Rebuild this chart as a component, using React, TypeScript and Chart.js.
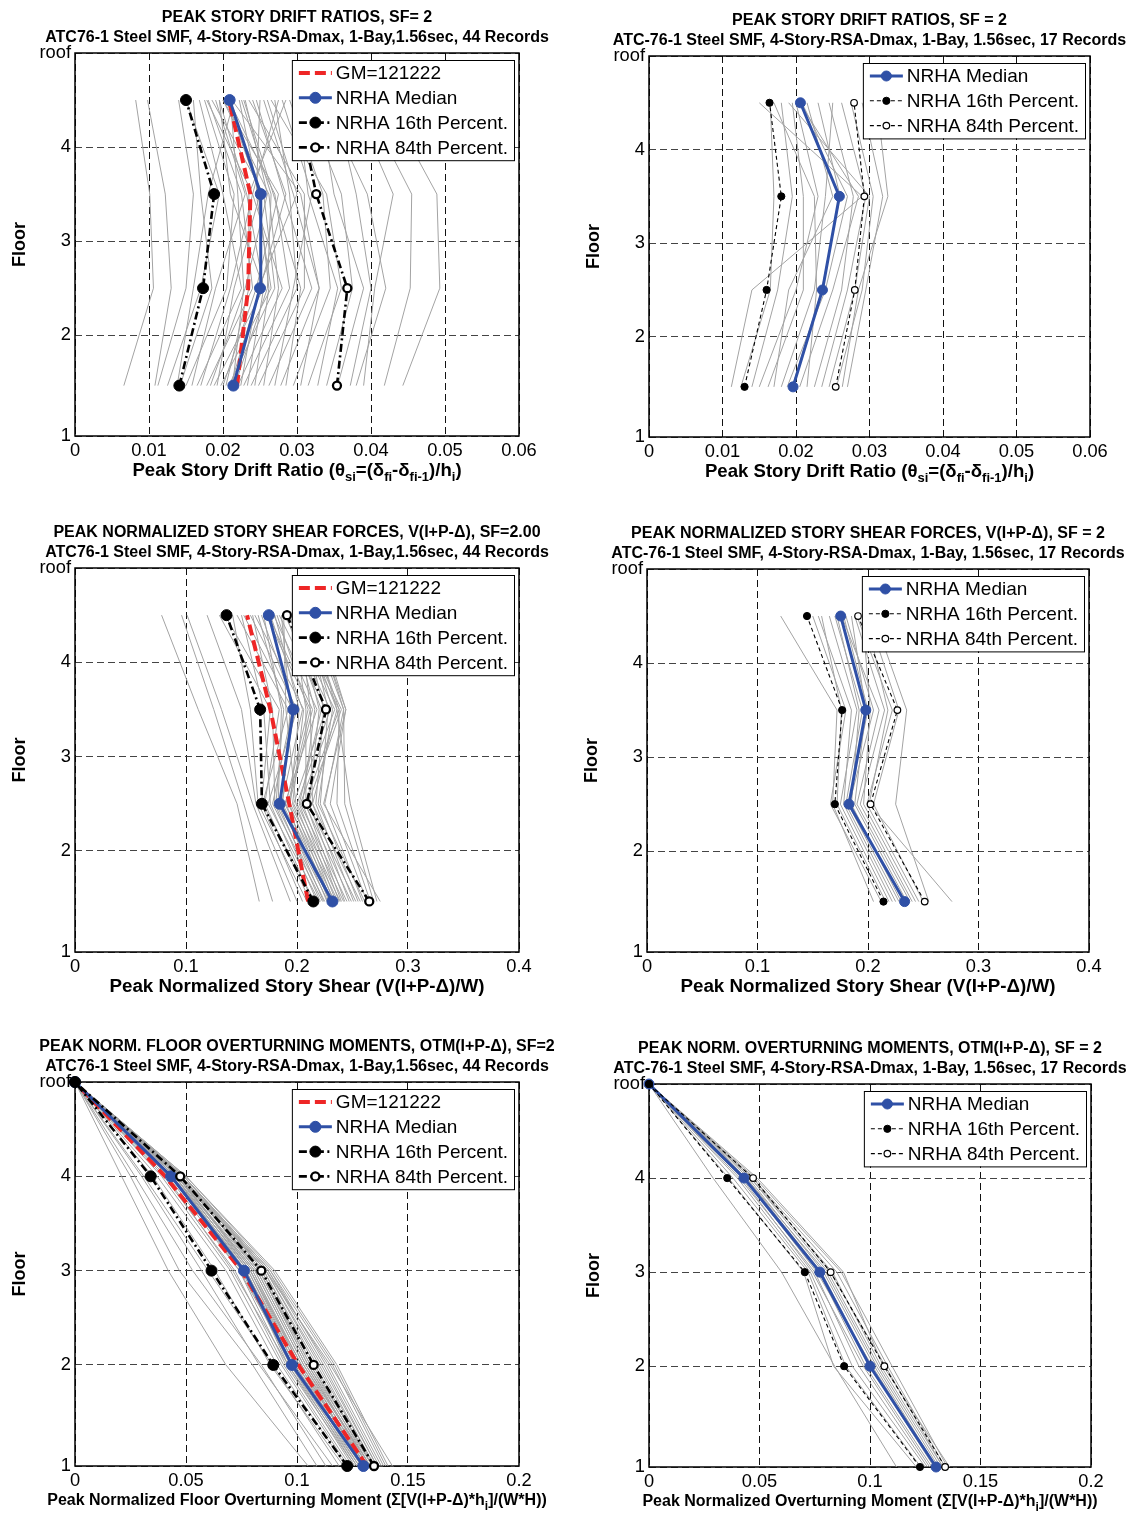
import React, { useEffect, useRef } from 'react';
import { Chart, registerables } from 'chart.js';

Chart.register(...registerables);

const FONT = '"Liberation Sans", Arial, Helvetica, sans-serif';

// Floor elevations (first story is taller) and their labels
const floorElevation = [0, 15, 29, 43, 57];
const floorLabels = ['1', '2', '3', '4', 'roof'];
// Story quantities are plotted at mid-height of each story
const storyMid = floorElevation.slice(0, -1).map((e, i) => (e + floorElevation[i + 1]) / 2);
// Overturning moment at the roof level
const roofMoment = 0;

// ---------- Peak story drift ratios (stories 1..4) ----------
const drift44GM = [0.0219, 0.0234, 0.0237, 0.0208];
const drift44Median = [0.0214, 0.025, 0.0251, 0.0209];
const drift44P16 = [0.0141, 0.0173, 0.0188, 0.015];
const drift44P84 = [0.0354, 0.0368, 0.0326, 0.03];
const drift44Records = [
  [0.0066, 0.0106, 0.0101, 0.0082], [0.0108, 0.013, 0.0122, 0.0098], [0.0112, 0.015, 0.016, 0.014],
  [0.0125, 0.017, 0.0195, 0.015], [0.0138, 0.016, 0.018, 0.0215], [0.0142, 0.0185, 0.017, 0.016],
  [0.015, 0.0205, 0.0215, 0.0175], [0.0158, 0.019, 0.023, 0.019], [0.0165, 0.0225, 0.02, 0.0168],
  [0.017, 0.021, 0.024, 0.0275], [0.0178, 0.024, 0.0225, 0.018], [0.0183, 0.023, 0.026, 0.023],
  [0.0188, 0.0255, 0.021, 0.0195], [0.0192, 0.0215, 0.025, 0.0205], [0.0197, 0.0265, 0.0245, 0.025],
  [0.02, 0.0245, 0.0275, 0.02], [0.0204, 0.0235, 0.0235, 0.0285], [0.0208, 0.027, 0.0255, 0.0185],
  [0.021, 0.025, 0.0285, 0.024], [0.0213, 0.0228, 0.022, 0.021], [0.0216, 0.026, 0.0265, 0.0225],
  [0.022, 0.028, 0.024, 0.0178], [0.0224, 0.0248, 0.03, 0.026], [0.0228, 0.029, 0.027, 0.0208],
  [0.0233, 0.0255, 0.0232, 0.0195], [0.0238, 0.03, 0.029, 0.027], [0.0243, 0.0262, 0.0248, 0.0222],
  [0.0248, 0.031, 0.031, 0.0235], [0.0255, 0.0275, 0.0262, 0.02], [0.0262, 0.032, 0.0282, 0.0245],
  [0.027, 0.0295, 0.032, 0.028], [0.0278, 0.033, 0.0305, 0.0212], [0.0285, 0.0305, 0.0268, 0.0228],
  [0.0295, 0.0345, 0.0335, 0.029], [0.0305, 0.033, 0.0295, 0.0255], [0.0315, 0.036, 0.034, 0.0265],
  [0.0328, 0.0355, 0.0315, 0.03], [0.034, 0.0375, 0.036, 0.031], [0.0355, 0.039, 0.035, 0.033],
  [0.0372, 0.04, 0.038, 0.035], [0.038, 0.042, 0.0395, 0.0335], [0.039, 0.0405, 0.043, 0.0375],
  [0.0418, 0.0453, 0.0455, 0.039], [0.0443, 0.0493, 0.0489, 0.042],
];

const drift17Median = [0.0196, 0.0236, 0.0259, 0.0206];
const drift17P16 = [0.013, 0.016, 0.018, 0.0164];
const drift17P84 = [0.0254, 0.028, 0.0293, 0.0279];
const drift17Records = [
  [0.0112, 0.014, 0.029, 0.015], [0.0125, 0.0165, 0.017, 0.0165], [0.014, 0.0175, 0.0195, 0.018],
  [0.015, 0.02, 0.023, 0.02], [0.0162, 0.021, 0.021, 0.0195], [0.017, 0.019, 0.025, 0.0215],
  [0.018, 0.0225, 0.024, 0.025], [0.0188, 0.024, 0.027, 0.0208], [0.0195, 0.0235, 0.026, 0.023],
  [0.0205, 0.025, 0.0285, 0.0205], [0.0215, 0.0228, 0.0225, 0.017], [0.0225, 0.0262, 0.0278, 0.0245],
  [0.0235, 0.027, 0.0295, 0.0262], [0.0245, 0.028, 0.03, 0.019], [0.0255, 0.029, 0.0305, 0.0275],
  [0.0263, 0.0285, 0.0325, 0.031], [0.027, 0.0295, 0.0318, 0.029],
];

// ---------- Peak normalized story shear (stories 1..4) ----------
const shear44GM = [0.21, 0.193, 0.176, 0.155];
const shear44Median = [0.2319, 0.1844, 0.1967, 0.1746];
const shear44P16 = [0.2147, 0.1684, 0.1668, 0.1365];
const shear44P84 = [0.2651, 0.2088, 0.2261, 0.191];
const shear44Records = [
  [0.166, 0.146, 0.111, 0.078], [0.178, 0.152, 0.125, 0.096], [0.194, 0.16, 0.132, 0.101],
  [0.2, 0.163, 0.15, 0.119], [0.205, 0.168, 0.176, 0.13], [0.209, 0.165, 0.158, 0.142],
  [0.212, 0.171, 0.184, 0.135], [0.214, 0.176, 0.17, 0.15], [0.216, 0.169, 0.192, 0.146],
  [0.218, 0.18, 0.178, 0.16], [0.22, 0.174, 0.2, 0.158], [0.221, 0.183, 0.186, 0.17],
  [0.223, 0.178, 0.196, 0.152], [0.224, 0.186, 0.205, 0.176], [0.225, 0.181, 0.188, 0.165],
  [0.227, 0.19, 0.21, 0.182], [0.228, 0.184, 0.198, 0.168], [0.229, 0.193, 0.214, 0.174],
  [0.23, 0.187, 0.194, 0.186], [0.231, 0.196, 0.206, 0.162], [0.232, 0.189, 0.218, 0.179],
  [0.233, 0.199, 0.19, 0.188], [0.234, 0.192, 0.212, 0.172], [0.235, 0.202, 0.222, 0.19],
  [0.237, 0.194, 0.202, 0.18], [0.238, 0.205, 0.216, 0.194], [0.239, 0.197, 0.226, 0.184],
  [0.24, 0.208, 0.208, 0.196], [0.242, 0.2, 0.23, 0.189], [0.243, 0.211, 0.22, 0.199],
  [0.245, 0.203, 0.234, 0.192], [0.247, 0.214, 0.212, 0.202], [0.249, 0.207, 0.238, 0.196],
  [0.251, 0.217, 0.224, 0.205], [0.253, 0.21, 0.24, 0.2], [0.255, 0.221, 0.228, 0.208],
  [0.257, 0.214, 0.236, 0.203], [0.259, 0.225, 0.242, 0.211], [0.261, 0.219, 0.232, 0.206],
  [0.263, 0.23, 0.244, 0.214], [0.266, 0.236, 0.238, 0.209], [0.269, 0.243, 0.242, 0.216],
  [0.272, 0.248, 0.236, 0.211], [0.275, 0.224, 0.244, 0.218],
];

const shear17Median = [0.2331, 0.1828, 0.198, 0.1753];
const shear17P16 = [0.214, 0.17, 0.1766, 0.1448];
const shear17P84 = [0.2513, 0.2023, 0.2266, 0.191];
const shear17Records = [
  [0.205, 0.168, 0.172, 0.121], [0.212, 0.166, 0.18, 0.15], [0.216, 0.172, 0.176, 0.158],
  [0.219, 0.175, 0.19, 0.165], [0.222, 0.178, 0.185, 0.155], [0.225, 0.18, 0.195, 0.17],
  [0.228, 0.182, 0.2, 0.178], [0.23, 0.185, 0.192, 0.172], [0.233, 0.183, 0.205, 0.18],
  [0.235, 0.188, 0.198, 0.185], [0.238, 0.19, 0.21, 0.176], [0.24, 0.193, 0.215, 0.188],
  [0.243, 0.196, 0.202, 0.195], [0.246, 0.199, 0.222, 0.19], [0.25, 0.205, 0.228, 0.2],
  [0.255, 0.225, 0.235, 0.205], [0.276, 0.201, 0.218, 0.198],
];

// ---------- Peak normalized overturning moments (floors 1..4) ----------
const otm44GM = [0.1315, 0.1006, 0.075, 0.0406];
const otm44Median = [0.1299, 0.0977, 0.0761, 0.0433];
const otm44P16 = [0.1226, 0.0893, 0.0615, 0.0341];
const otm44P84 = [0.1347, 0.1075, 0.0839, 0.0474];
const otm44Records = [
  [0.105, 0.068, 0.042, 0.021], [0.109, 0.08, 0.047, 0.025], [0.113, 0.084, 0.053, 0.027],
  [0.116, 0.083, 0.057, 0.03], [0.119, 0.089, 0.06, 0.031], [0.121, 0.088, 0.063, 0.035],
  [0.122, 0.091, 0.068, 0.037], [0.123, 0.093, 0.07, 0.039], [0.124, 0.094, 0.072, 0.04],
  [0.125, 0.096, 0.071, 0.041], [0.126, 0.095, 0.074, 0.042], [0.126, 0.097, 0.075, 0.043],
  [0.127, 0.098, 0.074, 0.044], [0.127, 0.096, 0.076, 0.043], [0.128, 0.099, 0.077, 0.044],
  [0.128, 0.097, 0.076, 0.045], [0.129, 0.1, 0.078, 0.044], [0.129, 0.098, 0.077, 0.045],
  [0.13, 0.101, 0.079, 0.045], [0.13, 0.099, 0.078, 0.046], [0.13, 0.102, 0.08, 0.046],
  [0.131, 0.1, 0.079, 0.045], [0.131, 0.103, 0.081, 0.046], [0.131, 0.101, 0.08, 0.047],
  [0.132, 0.104, 0.082, 0.046], [0.132, 0.102, 0.079, 0.047], [0.132, 0.105, 0.083, 0.047],
  [0.133, 0.103, 0.081, 0.046], [0.133, 0.106, 0.083, 0.047], [0.133, 0.104, 0.082, 0.048],
  [0.134, 0.107, 0.084, 0.047], [0.134, 0.105, 0.083, 0.048], [0.134, 0.108, 0.085, 0.048],
  [0.135, 0.106, 0.084, 0.047], [0.135, 0.109, 0.085, 0.048], [0.135, 0.11, 0.086, 0.049],
  [0.136, 0.111, 0.086, 0.048], [0.136, 0.112, 0.087, 0.049], [0.137, 0.113, 0.088, 0.049],
  [0.138, 0.114, 0.087, 0.048], [0.139, 0.116, 0.088, 0.049], [0.14, 0.117, 0.089, 0.05],
  [0.141, 0.118, 0.09, 0.05], [0.143, 0.115, 0.086, 0.047],
];

const otm17Median = [0.1299, 0.1, 0.0773, 0.043];
const otm17P16 = [0.1226, 0.0883, 0.0705, 0.0354];
const otm17P84 = [0.134, 0.1065, 0.0822, 0.0471];
const otm17Records = [
  [0.112, 0.084, 0.06, 0.029], [0.121, 0.0835, 0.07, 0.036], [0.123, 0.089, 0.072, 0.038],
  [0.125, 0.092, 0.073, 0.04], [0.126, 0.095, 0.075, 0.041], [0.127, 0.097, 0.074, 0.042],
  [0.128, 0.098, 0.077, 0.043], [0.129, 0.1, 0.078, 0.044], [0.13, 0.101, 0.076, 0.043],
  [0.13, 0.102, 0.079, 0.045], [0.131, 0.103, 0.08, 0.044], [0.132, 0.104, 0.081, 0.046],
  [0.133, 0.105, 0.083, 0.046], [0.133, 0.107, 0.082, 0.047], [0.134, 0.108, 0.085, 0.047],
  [0.135, 0.11, 0.087, 0.048], [0.136, 0.106, 0.088, 0.049],
];

// ---------- Labels ----------
const legendLabels = {
  gm: 'GM=121222',
  median: 'NRHA Median',
  p16: 'NRHA 16th Percent.',
  p84: 'NRHA 84th Percent.',
};
const subtitle44 = 'ATC76-1 Steel SMF, 4-Story-RSA-Dmax, 1-Bay,1.56sec, 44 Records';
const subtitle17 = 'ATC-76-1 Steel SMF, 4-Story-RSA-Dmax, 1-Bay, 1.56sec, 17 Records';

type Seg = { t: string; sub?: boolean };
const driftLabel: Seg[] = [
  { t: 'Peak Story Drift Ratio (\u03B8' }, { t: 'si', sub: true }, { t: '=(\u03B4' }, { t: 'fi', sub: true },
  { t: '-\u03B4' }, { t: 'fi-1', sub: true }, { t: ')/h' }, { t: 'i', sub: true }, { t: ')' },
];
const shearLabel: Seg[] = [{ t: 'Peak Normalized Story Shear (V(I+P-\u0394)/W)' }];
const otmLabel44: Seg[] = [
  { t: 'Peak Normalized Floor Overturning Moment (\u03A3[V(I+P-\u0394)*h' }, { t: 'i', sub: true }, { t: ']/(W*H))' },
];
const otmLabel17: Seg[] = [
  { t: 'Peak Normalized Overturning Moment (\u03A3[V(I+P-\u0394)*h' }, { t: 'i', sub: true }, { t: ']/(W*H))' },
];

// ---------- Styles ----------
type Kind = 'gm' | 'median' | 'p16' | 'p84';
type LineStyle = { color: string; width: number; dash: number[]; r: number; fill: string; bw: number };
const GRAY = '#a3a3a3';
const BLUE = '#2f50a6';
const RED = '#ee2626';

const heavyStyle: Record<Kind, LineStyle> = {
  gm: { color: RED, width: 4, dash: [11, 5], r: 0, fill: RED, bw: 0 },
  median: { color: BLUE, width: 3, dash: [], r: 5.5, fill: BLUE, bw: 1 },
  p16: { color: '#000', width: 2.6, dash: [8, 3.5, 2, 3.5], r: 5.5, fill: '#000', bw: 1 },
  p84: { color: '#000', width: 2.6, dash: [8, 3.5, 2, 3.5], r: 4, fill: '#fff', bw: 2.3 },
};
const lightStyle: Record<Kind, LineStyle> = {
  gm: heavyStyle.gm,
  median: { color: BLUE, width: 3, dash: [], r: 5, fill: BLUE, bw: 1 },
  p16: { color: '#000', width: 1.1, dash: [4, 3], r: 3.6, fill: '#000', bw: 1 },
  p84: { color: '#000', width: 1.1, dash: [4, 3], r: 3.3, fill: '#fff', bw: 1.2 },
};

type Rect = { l: number; t: number; r: number; b: number };
interface PanelDef {
  canvas: [number, number, number, number];
  plot: Rect;
  xMax: number;
  xStep: number;
  title: string;
  subtitle: string;
  xLabel: Seg[];
  xLabelSize: number;
  style: Record<Kind, LineStyle>;
  ys: number[];
  series: { kind: Kind; values: number[] }[];
  records: number[][];
}

const withRoof = (v: number[]) => [...v, roofMoment];

const panels: PanelDef[] = [
  {
    canvas: [0, 0, 565, 505], plot: { l: 75, t: 53, r: 519, b: 436 }, xMax: 0.06, xStep: 0.01,
    title: 'PEAK STORY DRIFT RATIOS, SF= 2', subtitle: subtitle44, xLabel: driftLabel, xLabelSize: 18.6,
    style: heavyStyle, ys: storyMid,
    series: [
      { kind: 'gm', values: drift44GM }, { kind: 'median', values: drift44Median },
      { kind: 'p16', values: drift44P16 }, { kind: 'p84', values: drift44P84 },
    ],
    records: drift44Records,
  },
  {
    canvas: [565, 0, 566, 505], plot: { l: 649, t: 56, r: 1090, b: 437 }, xMax: 0.06, xStep: 0.01,
    title: 'PEAK STORY DRIFT RATIOS, SF = 2', subtitle: subtitle17, xLabel: driftLabel, xLabelSize: 18.6,
    style: lightStyle, ys: storyMid,
    series: [
      { kind: 'median', values: drift17Median }, { kind: 'p16', values: drift17P16 }, { kind: 'p84', values: drift17P84 },
    ],
    records: drift17Records,
  },
  {
    canvas: [0, 505, 565, 515], plot: { l: 75, t: 568, r: 519, b: 952 }, xMax: 0.4, xStep: 0.1,
    title: 'PEAK NORMALIZED STORY SHEAR FORCES, V(I+P-\u0394), SF=2.00', subtitle: subtitle44,
    xLabel: shearLabel, xLabelSize: 18.8, style: heavyStyle, ys: storyMid,
    series: [
      { kind: 'gm', values: shear44GM }, { kind: 'median', values: shear44Median },
      { kind: 'p16', values: shear44P16 }, { kind: 'p84', values: shear44P84 },
    ],
    records: shear44Records,
  },
  {
    canvas: [565, 505, 566, 515], plot: { l: 647, t: 569, r: 1089, b: 952 }, xMax: 0.4, xStep: 0.1,
    title: 'PEAK NORMALIZED STORY SHEAR FORCES, V(I+P-\u0394), SF = 2', subtitle: subtitle17,
    xLabel: shearLabel, xLabelSize: 18.8, style: lightStyle, ys: storyMid,
    series: [
      { kind: 'median', values: shear17Median }, { kind: 'p16', values: shear17P16 }, { kind: 'p84', values: shear17P84 },
    ],
    records: shear17Records,
  },
  {
    canvas: [0, 1020, 565, 494], plot: { l: 75, t: 1082, r: 519, b: 1466 }, xMax: 0.2, xStep: 0.05,
    title: 'PEAK NORM. FLOOR OVERTURNING MOMENTS, OTM(I+P-\u0394), SF=2', subtitle: subtitle44,
    xLabel: otmLabel44, xLabelSize: 16, style: heavyStyle, ys: floorElevation,
    series: [
      { kind: 'gm', values: withRoof(otm44GM) }, { kind: 'median', values: withRoof(otm44Median) },
      { kind: 'p16', values: withRoof(otm44P16) }, { kind: 'p84', values: withRoof(otm44P84) },
    ],
    records: otm44Records.map(withRoof),
  },
  {
    canvas: [565, 1020, 566, 494], plot: { l: 649, t: 1084, r: 1091, b: 1467 }, xMax: 0.2, xStep: 0.05,
    title: 'PEAK NORM. OVERTURNING MOMENTS, OTM(I+P-\u0394), SF = 2', subtitle: subtitle17,
    xLabel: otmLabel17, xLabelSize: 16, style: lightStyle, ys: floorElevation,
    series: [
      { kind: 'median', values: withRoof(otm17Median) }, { kind: 'p16', values: withRoof(otm17P16) },
      { kind: 'p84', values: withRoof(otm17P84) },
    ],
    records: otm17Records.map(withRoof),
  },
];

const X_AXIS_H = 30;
const TICK_SIZE = 18.3;
const LEGEND_SIZE = 19;
const TITLE_SIZE = 16;
const drawOrder: Record<Kind, number> = { gm: 3, median: 2, p84: 1, p16: 0 };

function drawSegments(ctx: CanvasRenderingContext2D, segs: Seg[], cx: number, cy: number, size: number) {
  const main = `bold ${size}px ${FONT}`;
  const sub = `bold ${Math.round(size * 0.72)}px ${FONT}`;
  let total = 0;
  for (const s of segs) {
    ctx.font = s.sub ? sub : main;
    total += ctx.measureText(s.t).width;
  }
  let x = cx - total / 2;
  ctx.textAlign = 'left';
  ctx.textBaseline = 'middle';
  ctx.fillStyle = '#000';
  for (const s of segs) {
    ctx.font = s.sub ? sub : main;
    ctx.fillText(s.t, x, s.sub ? cy + size * 0.36 : cy);
    x += ctx.measureText(s.t).width;
  }
}

function drawMarker(ctx: CanvasRenderingContext2D, x: number, y: number, st: LineStyle) {
  if (st.r <= 0) return;
  ctx.setLineDash([]);
  ctx.beginPath();
  ctx.arc(x, y, st.r, 0, Math.PI * 2);
  ctx.fillStyle = st.fill;
  ctx.fill();
  ctx.lineWidth = st.bw;
  ctx.strokeStyle = st.color;
  ctx.stroke();
}

function makeDecor(def: PanelDef) {
  return {
    id: 'panelDecor',
    beforeDatasetsDraw(chart: Chart) {
      const { ctx, chartArea: a } = chart;
      ctx.save();
      ctx.strokeStyle = '#000';
      ctx.lineWidth = 1.5;
      ctx.setLineDash([]);
      ctx.strokeRect(a.left, a.top, a.right - a.left, a.bottom - a.top);
      ctx.restore();
    },
    afterDatasetsDraw(chart: Chart) {
      // legend box in the upper right corner of the axes
      const { ctx, chartArea: a } = chart;
      ctx.save();
      ctx.font = `${LEGEND_SIZE}px ${FONT}`;
      const kinds = def.series.map((s) => s.kind);
      const textW = Math.max(...kinds.map((k) => ctx.measureText(legendLabels[k]).width));
      const rowH = 24.8;
      const w = 44 + textW + 6;
      const h = kinds.length * rowH + 1;
      const bx = a.right - 5 - w;
      const by = a.top + 7;
      ctx.fillStyle = '#fff';
      ctx.fillRect(bx, by, w, h);
      ctx.lineWidth = 1;
      ctx.strokeStyle = '#000';
      ctx.setLineDash([]);
      ctx.strokeRect(bx + 0.5, by + 0.5, w, h);
      kinds.forEach((k, i) => {
        const st = def.style[k];
        const cy = by + 13 + i * rowH;
        ctx.beginPath();
        ctx.setLineDash(st.dash);
        ctx.lineWidth = st.width;
        ctx.strokeStyle = st.color;
        ctx.moveTo(bx + 7, cy);
        ctx.lineTo(bx + 40, cy);
        ctx.stroke();
        drawMarker(ctx, bx + 23.5, cy, st);
        ctx.fillStyle = '#000';
        ctx.font = `${LEGEND_SIZE}px ${FONT}`;
        ctx.textAlign = 'left';
        ctx.textBaseline = 'middle';
        ctx.fillText(legendLabels[k], bx + 44, cy + 1);
      });
      ctx.restore();
    },
    afterDraw(chart: Chart) {
      const { ctx, chartArea: a } = chart;
      const cx = (a.left + a.right) / 2;
      ctx.save();
      ctx.fillStyle = '#000';
      ctx.textAlign = 'center';
      ctx.textBaseline = 'middle';
      ctx.font = `bold ${TITLE_SIZE}px ${FONT}`;
      ctx.fillText(def.title, cx, a.top - 35);
      ctx.fillText(def.subtitle, cx, a.top - 15.5);
      drawSegments(ctx, def.xLabel, cx, a.bottom + 34.5, def.xLabelSize);
      ctx.translate(a.left - 55, (a.top + a.bottom) / 2);
      ctx.rotate(-Math.PI / 2);
      ctx.font = `bold 18px ${FONT}`;
      ctx.textAlign = 'center';
      ctx.fillText('Floor', 0, 0);
      ctx.restore();
    },
  };
}

const fmtTick = (v: number) => String(parseFloat(Number(v).toFixed(4)));

function buildConfig(def: PanelDef): any {
  const [cx, cy, cw, ch] = def.canvas;
  const p = def.plot;
  const pts = (vals: number[]) => vals.map((v, i) => ({ x: v, y: def.ys[i] }));
  const datasets: any[] = [];
  def.series.forEach((s) => {
    const st = def.style[s.kind];
    datasets.push({
      label: legendLabels[s.kind],
      data: pts(s.values),
      showLine: true,
      borderColor: st.color,
      borderWidth: st.width,
      borderDash: st.dash,
      pointRadius: st.r,
      pointHoverRadius: st.r,
      pointBackgroundColor: st.fill,
      pointBorderColor: st.color,
      pointBorderWidth: st.bw,
      order: drawOrder[s.kind],
      clip: false,
    });
  });
  def.records.forEach((r, i) => {
    datasets.push({
      label: `record ${i + 1}`,
      data: pts(r),
      showLine: true,
      borderColor: GRAY,
      borderWidth: 1,
      pointRadius: 0,
      pointHoverRadius: 0,
      order: 10,
      clip: false,
    });
  });
  return {
    type: 'scatter',
    data: { datasets },
    options: {
      responsive: false,
      animation: false,
      devicePixelRatio: 1,
      events: [],
      layout: {
        padding: { left: 0, top: p.t - cy, right: cx + cw - p.r, bottom: cy + ch - p.b - X_AXIS_H },
      },
      plugins: { legend: { display: false }, tooltip: { enabled: false }, title: { display: false } },
      scales: {
        x: {
          type: 'linear',
          min: 0,
          max: def.xMax,
          afterFit: (s: any) => { s.height = X_AXIS_H; },
          ticks: {
            stepSize: def.xStep,
            autoSkip: false,
            maxRotation: 0,
            padding: 4,
            color: '#000',
            font: { family: FONT, size: TICK_SIZE },
            callback: (v: any) => fmtTick(v),
          },
          grid: { color: '#111', lineWidth: 1, drawTicks: false },
          border: { display: false, dash: [7, 4] },
        },
        y: {
          type: 'linear',
          min: floorElevation[0],
          max: floorElevation[floorElevation.length - 1],
          afterFit: (s: any) => { s.width = p.l - cx; },
          afterBuildTicks: (s: any) => { s.ticks = floorElevation.map((v) => ({ value: v })); },
          ticks: {
            padding: 4,
            color: '#000',
            font: { family: FONT, size: TICK_SIZE },
            callback: (v: any) => floorLabels[floorElevation.indexOf(Number(v))] ?? '',
          },
          grid: { color: '#444', lineWidth: 1, drawTicks: false },
          border: { display: false, dash: [7, 4] },
        },
      },
    },
    plugins: [makeDecor(def)],
  };
}

function Panel({ def }: { def: PanelDef }) {
  const ref = useRef<HTMLCanvasElement>(null);
  useEffect(() => {
    if (!ref.current) return;
    const chart = new Chart(ref.current, buildConfig(def));
    return () => chart.destroy();
  }, [def]);
  const [x, y, w, h] = def.canvas;
  return (
    <canvas
      ref={ref}
      width={w}
      height={h}
      style={{ position: 'absolute', left: x, top: y, width: w, height: h }}
    />
  );
}

export default function App() {
  return (
    <div style={{ position: 'absolute', left: 0, top: 0, width: 1131, height: 1514, background: '#fff' }}>
      {panels.map((d, i) => (
        <Panel key={i} def={d} />
      ))}
    </div>
  );
}
